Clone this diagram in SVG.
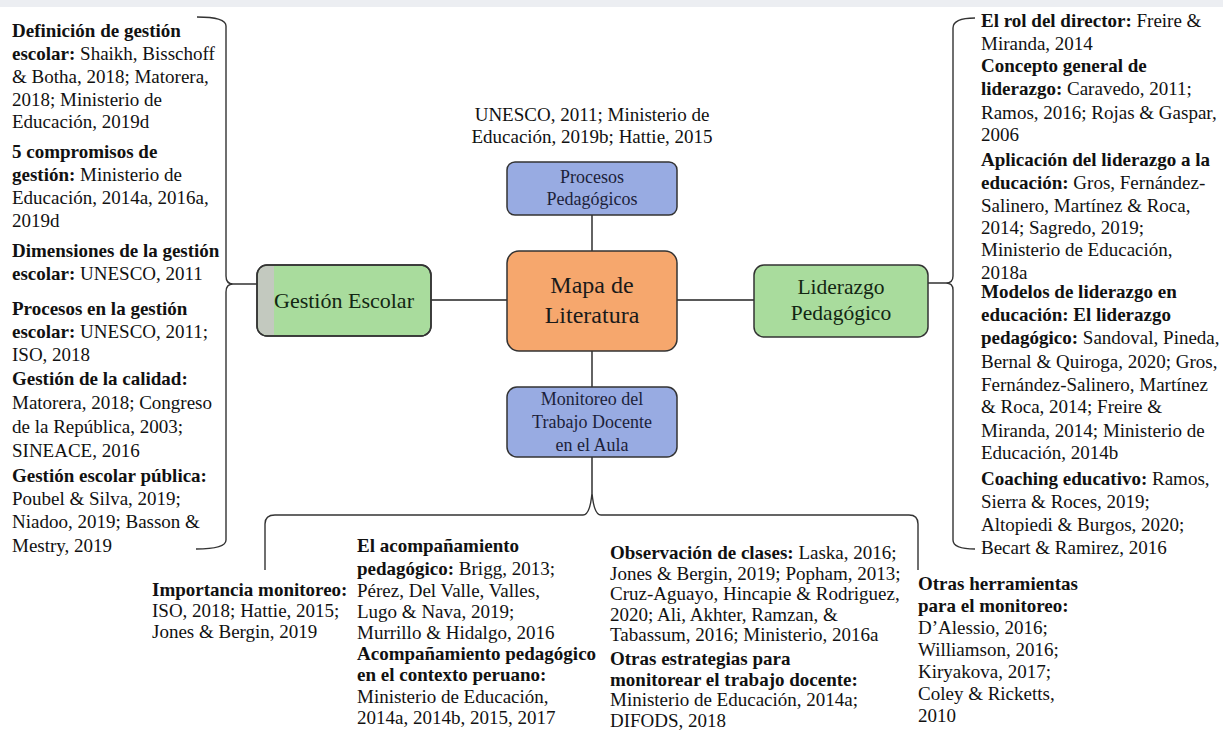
<svg xmlns="http://www.w3.org/2000/svg" width="1223" height="730" viewBox="0 0 1223 730">
<style>
text{font-family:"Liberation Serif","Times New Roman",serif;fill:#111;}
.t{font-size:19px;}
.b{font-weight:bold;}
.box{stroke:#333;stroke-width:1.5;}
.blue{fill:#98abe2;}
.orange{fill:#f6a76d;}
.green{fill:#a9dc9d;}
.bt{fill:#1c1f3a;text-anchor:middle;}
.con{fill:none;stroke:#222;stroke-width:1.4;}
.br{fill:none;stroke:#333;stroke-width:1.4;}
</style>
<rect x="0" y="0" width="1223" height="730" fill="#ffffff"/>
<rect x="0" y="0" width="1223" height="7" fill="#eceef2"/>

<g id="connectors">
<line class="con" x1="592" y1="215" x2="592" y2="251"/>
<line class="con" x1="592" y1="351" x2="592" y2="387"/>
<line class="con" x1="431" y1="300" x2="507" y2="300"/>
<line class="con" x1="677" y1="300" x2="754" y2="300"/>
<line class="con" x1="257" y1="284" x2="233" y2="284"/>
<line class="con" x1="928" y1="283" x2="946" y2="283"/>
<line class="con" x1="592" y1="457" x2="592" y2="493"/>
<path class="br" d="M197,17 Q226,17 226,26 L226,276 Q226,284 233,284 Q226,284 226,292 L226,540 Q226,549 196,549"/>
<path class="br" d="M975,18 Q953,18 953,28 L953,276 Q953,283 946,283 Q953,283 953,290 L953,540 Q953,549 975,549"/>
<path class="br" d="M265,570 L265,524 Q265,515 275,515 L583,515 Q590,515 592,493 Q594,515 601,515 L909,515 Q918,515 918,524 L918,570"/>
</g>

<g id="node-procesos">
<rect class="box blue" x="507" y="162" width="170" height="53" rx="8"/>
<text class="bt" x="592" y="183" font-size="18">Procesos</text>
<text class="bt" x="592" y="205" font-size="18">Pedagógicos</text>
</g>
<g id="ref-procesos">
<text class="t" x="592" y="121" text-anchor="middle">UNESCO, 2011; Ministerio de</text>
<text class="t" x="592" y="143" text-anchor="middle">Educación, 2019b; Hattie, 2015</text>
</g>

<g id="node-mapa">
<rect class="box orange" x="507" y="251" width="170" height="100" rx="12"/>
<text class="bt" x="592" y="293" font-size="24" style="fill:#1a1a1a">Mapa de</text>
<text class="bt" x="592" y="323" font-size="24" style="fill:#1a1a1a">Literatura</text>
</g>

<g id="node-monitoreo">
<rect class="box blue" x="507" y="387" width="170" height="70" rx="10"/>
<text class="bt" x="592" y="405" font-size="18">Monitoreo del</text>
<text class="bt" x="592" y="428" font-size="18">Trabajo Docente</text>
<text class="bt" x="592" y="451" font-size="18">en el Aula</text>
</g>

<g id="node-gestion">
<rect class="box green" x="257" y="265" width="174" height="71" rx="10"/>
<path d="M274,266 L274,335 L267,335 Q258,335 258,326 L258,275 Q258,266 267,266 Z" fill="#c3c9bf"/>
<rect x="257" y="265" width="174" height="71" rx="10" fill="none" stroke="#333" stroke-width="1.5"/>
<text class="bt" x="344" y="308" font-size="22" style="fill:#132613">Gestión Escolar</text>
</g>

<g id="node-liderazgo">
<rect class="box green" x="754" y="265" width="174" height="72" rx="10"/>
<text class="bt" x="841" y="294" font-size="21.5" style="fill:#132613">Liderazgo</text>
<text class="bt" x="841" y="320" font-size="21.5" style="fill:#132613">Pedagógico</text>
</g>

<g id="refs-gestion">
<text class="t" x="12" y="37"><tspan class="b">Definición de gestión</tspan></text>
<text class="t" x="12" y="60"><tspan class="b">escolar:</tspan> Shaikh, Bisschoff</text>
<text class="t" x="12" y="83">&amp; Botha, 2018; Matorera,</text>
<text class="t" x="12" y="106">2018; Ministerio de</text>
<text class="t" x="12" y="128">Educación, 2019d</text>
<text class="t" x="12" y="158"><tspan class="b">5 compromisos de</tspan></text>
<text class="t" x="12" y="181"><tspan class="b">gestión:</tspan> Ministerio de</text>
<text class="t" x="12" y="204">Educación, 2014a, 2016a,</text>
<text class="t" x="12" y="227">2019d</text>
<text class="t" x="12" y="257"><tspan class="b">Dimensiones de la gestión</tspan></text>
<text class="t" x="12" y="280"><tspan class="b">escolar:</tspan> UNESCO, 2011</text>
<text class="t" x="12" y="315"><tspan class="b">Procesos en la gestión</tspan></text>
<text class="t" x="12" y="338"><tspan class="b">escolar:</tspan> UNESCO, 2011;</text>
<text class="t" x="12" y="361">ISO, 2018</text>
<text class="t" x="12" y="385"><tspan class="b">Gestión de la calidad:</tspan></text>
<text class="t" x="12" y="409">Matorera, 2018; Congreso</text>
<text class="t" x="12" y="433">de la República, 2003;</text>
<text class="t" x="12" y="457">SINEACE, 2016</text>
<text class="t" x="12" y="482"><tspan class="b">Gestión escolar pública:</tspan></text>
<text class="t" x="12" y="505">Poubel &amp; Silva, 2019;</text>
<text class="t" x="12" y="528">Niadoo, 2019; Basson &amp;</text>
<text class="t" x="12" y="552">Mestry, 2019</text>
</g>

<g id="refs-liderazgo">
<text class="t" x="981" y="27"><tspan class="b">El rol del director:</tspan> Freire &amp;</text>
<text class="t" x="981" y="50">Miranda, 2014</text>
<text class="t" x="981" y="72"><tspan class="b">Concepto general de</tspan></text>
<text class="t" x="981" y="95"><tspan class="b">liderazgo:</tspan> Caravedo, 2011;</text>
<text class="t" x="981" y="119">Ramos, 2016; Rojas &amp; Gaspar,</text>
<text class="t" x="981" y="141">2006</text>
<text class="t" x="981" y="166"><tspan class="b">Aplicación del liderazgo a la</tspan></text>
<text class="t" x="981" y="189"><tspan class="b">educación:</tspan> Gros, Fernández-</text>
<text class="t" x="981" y="212">Salinero, Martínez &amp; Roca,</text>
<text class="t" x="981" y="234">2014; Sagredo, 2019;</text>
<text class="t" x="981" y="256">Ministerio de Educación,</text>
<text class="t" x="981" y="279">2018a</text>
<text class="t" x="981" y="298"><tspan class="b">Modelos de liderazgo en</tspan></text>
<text class="t" x="981" y="321"><tspan class="b">educación: El liderazgo</tspan></text>
<text class="t" x="981" y="344"><tspan class="b">pedagógico:</tspan> Sandoval, Pineda,</text>
<text class="t" x="981" y="368">Bernal &amp; Quiroga, 2020; Gros,</text>
<text class="t" x="981" y="391">Fernández-Salinero, Martínez</text>
<text class="t" x="981" y="413">&amp; Roca, 2014; Freire &amp;</text>
<text class="t" x="981" y="437">Miranda, 2014; Ministerio de</text>
<text class="t" x="981" y="459">Educación, 2014b</text>
<text class="t" x="981" y="485"><tspan class="b">Coaching educativo:</tspan> Ramos,</text>
<text class="t" x="981" y="508">Sierra &amp; Roces, 2019;</text>
<text class="t" x="981" y="531">Altopiedi &amp; Burgos, 2020;</text>
<text class="t" x="981" y="554">Becart &amp; Ramirez, 2016</text>
</g>

<g id="refs-monitoreo">
<text class="t" x="152" y="596"><tspan class="b">Importancia monitoreo:</tspan></text>
<text class="t" x="152" y="617">ISO, 2018; Hattie, 2015;</text>
<text class="t" x="152" y="638">Jones &amp; Bergin, 2019</text>

<text class="t" x="357" y="552"><tspan class="b">El acompañamiento</tspan></text>
<text class="t" x="357" y="575"><tspan class="b">pedagógico:</tspan> Brigg, 2013;</text>
<text class="t" x="357" y="597">Pérez, Del Valle, Valles,</text>
<text class="t" x="357" y="618">Lugo &amp; Nava, 2019;</text>
<text class="t" x="357" y="639">Murrillo &amp; Hidalgo, 2016</text>
<text class="t" x="357" y="660"><tspan class="b">Acompañamiento pedagógico</tspan></text>
<text class="t" x="357" y="681"><tspan class="b">en el contexto peruano:</tspan></text>
<text class="t" x="357" y="703">Ministerio de Educación,</text>
<text class="t" x="357" y="724">2014a, 2014b, 2015, 2017</text>

<text class="t" x="610" y="559"><tspan class="b">Observación de clases:</tspan> Laska, 2016;</text>
<text class="t" x="610" y="579.5">Jones &amp; Bergin, 2019; Popham, 2013;</text>
<text class="t" x="610" y="600">Cruz-Aguayo, Hincapie &amp; Rodriguez,</text>
<text class="t" x="610" y="620.5">2020; Ali, Akhter, Ramzan, &amp;</text>
<text class="t" x="610" y="641">Tabassum, 2016; Ministerio, 2016a</text>
<text class="t" x="610" y="665"><tspan class="b">Otras estrategias para</tspan></text>
<text class="t" x="610" y="685.5"><tspan class="b">monitorear el trabajo docente:</tspan></text>
<text class="t" x="610" y="706">Ministerio de Educación, 2014a;</text>
<text class="t" x="610" y="726.5">DIFODS, 2018</text>

<text class="t" x="918" y="590"><tspan class="b">Otras herramientas</tspan></text>
<text class="t" x="918" y="612"><tspan class="b">para el monitoreo:</tspan></text>
<text class="t" x="918" y="634">D’Alessio, 2016;</text>
<text class="t" x="918" y="656">Williamson, 2016;</text>
<text class="t" x="918" y="678">Kiryakova, 2017;</text>
<text class="t" x="918" y="700">Coley &amp; Ricketts,</text>
<text class="t" x="918" y="722">2010</text>
</g>
</svg>
